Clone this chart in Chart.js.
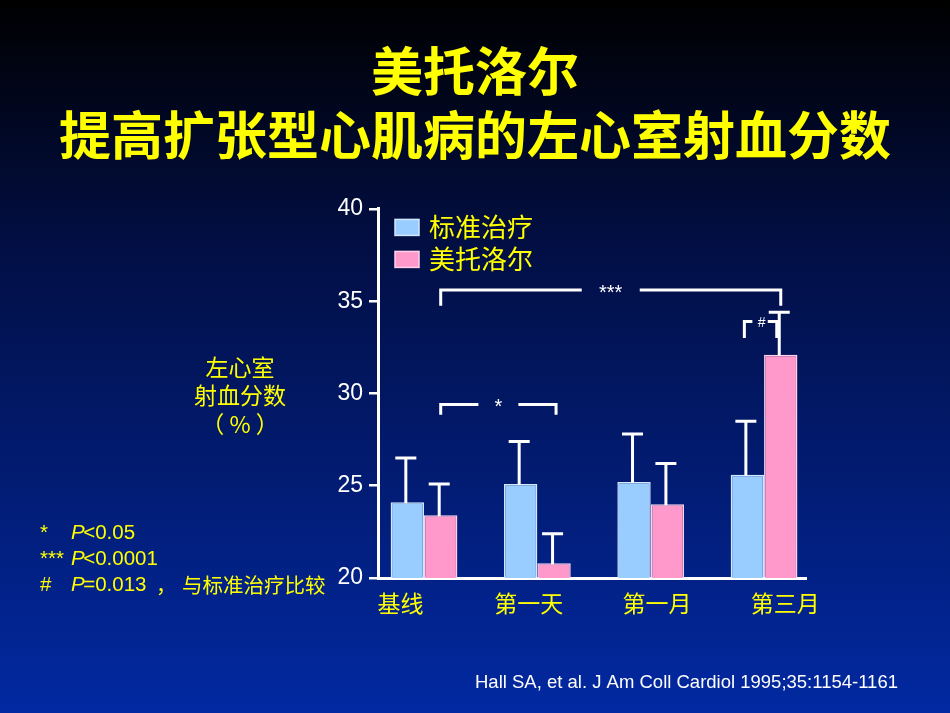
<!DOCTYPE html>
<html>
<head>
<meta charset="utf-8">
<script src="https://cdn.jsdelivr.net/npm/chart.js@4/dist/chart.umd.min.js"></script>
<style>
  html, body { margin: 0; padding: 0; background: #000; }
  #wrap { width: 950px; height: 713px; position: relative; }
</style>
</head>
<body>
<div id="wrap"><canvas id="c" width="950" height="713"></canvas></div>
<script>
// ---- data ----
const categories = ['基线', '第一天', '第一月', '第三月'];
const seriesNames = ['标准治疗', '美托洛尔'];
const standardEF = [24.1, 25.1, 25.2, 25.6];
const standardSD = [2.4, 2.3, 2.6, 2.9];
const metoprololEF = [23.4, 20.8, 24.0, 32.1];
const metoprololSD = [1.7, 1.6, 2.2, 2.3];
const yTicks = [20, 25, 30, 35, 40];
const titleLines = ['美托洛尔', '提高扩张型心肌病的左心室射血分数'];
const yAxisLabel = ['左心室', '射血分数', '（ % ）'];
const citation = 'Hall SA, et al. J Am Coll Cardiol 1995;35:1154-1161';

const YELLOW = '#FFFF00';
const CJK = '"Noto Sans CJK SC", "Noto Sans", sans-serif';
const ARIAL = '"Liberation Sans", Arial, sans-serif';

const bgPlugin = {
  id: 'bg',
  beforeDraw(chart) {
    const ctx = chart.ctx;
    const g = ctx.createLinearGradient(0, 0, 0, chart.height);
    g.addColorStop(0, '#000000');
    g.addColorStop(0.35, '#020f45');
    g.addColorStop(1, '#0229a2');
    ctx.save();
    ctx.fillStyle = g;
    ctx.fillRect(0, 0, chart.width, chart.height);
    ctx.restore();
  }
};

const extrasPlugin = {
  id: 'extras',
  afterDatasetsDraw(chart) {
    const ctx = chart.ctx;
    const y = chart.scales.y;
    const area = chart.chartArea;
    const m0 = chart.getDatasetMeta(0).data;
    const m1 = chart.getDatasetMeta(1).data;
    ctx.save();
    ctx.strokeStyle = '#FFFFFF';
    ctx.lineWidth = 3;
    ctx.lineCap = 'butt';
    // error bars
    const drawErr = (els, vals, sds) => {
      els.forEach((el, i) => {
        const top = y.getPixelForValue(vals[i] + sds[i]);
        const x = el.x - 1.5;
        ctx.beginPath();
        ctx.moveTo(x, el.y + 1);
        ctx.lineTo(x, top);
        ctx.moveTo(x - 10.5, top);
        ctx.lineTo(x + 10.5, top);
        ctx.stroke();
      });
    };
    drawErr(m0, standardEF, standardSD);
    drawErr(m1, metoprololEF, metoprololSD);

    // significance brackets
    const bracket = (xL, xR, vLine, vDrop, gap, label, fontSize) => {
      const yl = y.getPixelForValue(vLine);
      const yd = y.getPixelForValue(vDrop);
      const xc = (xL + xR) / 2;
      ctx.beginPath();
      ctx.moveTo(xL, yd); ctx.lineTo(xL, yl); ctx.lineTo(xc - gap, yl);
      ctx.moveTo(xc + gap, yl); ctx.lineTo(xR, yl); ctx.lineTo(xR, yd);
      ctx.stroke();
      ctx.fillStyle = '#FFFFFF';
      ctx.font = fontSize + 'px ' + ARIAL;
      ctx.textAlign = 'center';
      ctx.textBaseline = 'middle';
      ctx.fillText(label, xc, yl + fontSize * 0.15);
    };
    bracket(m1[0].x, m1[3].x, 35.6, 34.75, 29, '***', 20);
    bracket(m1[0].x, m1[1].x + 2, 29.4, 28.85, 20, '*', 20);

    // small # bracket
    const yt = y.getPixelForValue(33.9);
    const yb = y.getPixelForValue(33.0);
    const xl = m0[3].x - 3;
    const xr = m1[3].x - 4;
    ctx.beginPath();
    ctx.moveTo(xl, yb); ctx.lineTo(xl, yt); ctx.lineTo(xl + 8, yt);
    ctx.moveTo(xr - 9, yt); ctx.lineTo(xr, yt); ctx.lineTo(xr, yb);
    ctx.stroke();
    ctx.fillStyle = '#FFFFFF';
    ctx.font = '14px ' + ARIAL;
    ctx.textAlign = 'center';
    ctx.textBaseline = 'middle';
    ctx.fillText('#', (xl + xr) / 2 + 1, yt + 2);

    // legend
    chart.data.datasets.forEach((ds, i) => {
      const bx = area.left + 17;
      const by = area.top + 10.5 + i * 32;
      ctx.fillStyle = ds.backgroundColor;
      ctx.fillRect(bx, by, 24, 16);
      ctx.lineWidth = 1.5;
      ctx.strokeStyle = ds.borderColor;
      ctx.strokeRect(bx, by, 24, 16);
      ctx.fillStyle = YELLOW;
      ctx.font = '26px ' + CJK;
      ctx.textAlign = 'left';
      ctx.textBaseline = 'middle';
      ctx.fillText(ds.label, bx + 34, by + 8);
    });

    // y axis label
    ctx.fillStyle = YELLOW;
    ctx.font = '23px ' + CJK;
    ctx.textAlign = 'center';
    ctx.textBaseline = 'middle';
    yAxisLabel.forEach((t, i) => ctx.fillText(t, 240, 367 + i * 28.5));

    // footnotes
    ctx.textAlign = 'left';
    const notes = [['*', '<0.05'], ['***', '<0.0001'], ['#', '=0.013']];
    notes.forEach((n, i) => {
      const ny = 533 + i * 26;
      ctx.font = '20.5px ' + ARIAL;
      ctx.fillText(n[0], 40, ny);
      ctx.font = 'italic 20.5px ' + ARIAL;
      ctx.fillText('P', 71, ny);
      const pw = ctx.measureText('P').width;
      ctx.font = '20.5px ' + ARIAL;
      ctx.fillText(n[1], 71 + pw - 1.5, ny);
    });
    ctx.font = '20.5px ' + CJK;
    ctx.fillText('，', 156, 585);
    ctx.fillText('与标准治疗比较', 182, 585);

    // citation
    ctx.fillStyle = '#FFFFFF';
    ctx.font = '18.5px ' + ARIAL;
    ctx.textAlign = 'left';
    ctx.fillText(citation, 475, 683);
    ctx.restore();
  }
};

const intTicks = (s) => { s.ticks = categories.map((c, i) => ({ value: i })); };

const chart = new Chart(document.getElementById('c'), {
  type: 'bar',
  data: {
    datasets: [
      {
        label: seriesNames[0],
        data: standardEF.map((v, i) => ({ x: i, y: v })),
        backgroundColor: '#99CCFF',
        borderColor: '#D2E8FF',
        borderWidth: 1.5,
        xAxisID: 'x', yAxisID: 'y'
      },
      {
        label: seriesNames[1],
        data: metoprololEF.map((v, i) => ({ x: i, y: v })),
        backgroundColor: '#FF99CC',
        borderColor: '#FFD2EA',
        borderWidth: 1.5,
        xAxisID: 'x', yAxisID: 'y'
      }
    ]
  },
  options: {
    responsive: false,
    animation: false,
    devicePixelRatio: 1,
    categoryPercentage: 0.589,
    barPercentage: 1.0,
    layout: { padding: 0 },
    plugins: {
      legend: { display: false },
      tooltip: { enabled: false },
      title: {
        display: true,
        text: titleLines,
        color: YELLOW,
        font: { family: CJK, size: 52, weight: 'bold', lineHeight: 1.23 },
        padding: { top: 39, bottom: 42 }
      }
    },
    scales: {
      x: {
        type: 'linear',
        display: false,
        offset: false,
        min: -0.406,
        max: 3.37,
        grid: { offset: false },
        afterBuildTicks: intTicks
      },
      xl: {
        type: 'linear',
        position: 'bottom',
        offset: false,
        min: -0.175,
        max: 3.161,
        grid: { display: false, drawTicks: false, offset: false },
        border: { display: true, color: '#FFFFFF', width: 3 },
        afterBuildTicks: intTicks,
        ticks: {
          autoSkip: false,
          maxRotation: 0,
          padding: 11,
          color: YELLOW,
          font: { family: CJK, size: 23 },
          callback: (v) => Number.isInteger(v) ? categories[v] : ''
        },
        afterFit: (s) => { s.height = 135; }
      },
      y: {
        type: 'linear',
        position: 'left',
        min: yTicks[0],
        max: yTicks[yTicks.length - 1],
        afterBuildTicks: (s) => { s.ticks = yTicks.map(v => ({ value: v })); },
        grid: { display: true, drawOnChartArea: false, drawTicks: true, tickLength: 9, color: '#FFFFFF', lineWidth: 2.5 },
        border: { display: true, color: '#FFFFFF', width: 3 },
        ticks: {
          padding: 6,
          color: '#FFFFFF',
          font: { family: ARIAL, size: 23 }
        },
        afterFit: (s) => { s.width = 378; }
      },
      yr: {
        type: 'linear',
        position: 'right',
        display: true,
        grid: { display: false, drawTicks: false },
        border: { display: false },
        ticks: { display: false },
        afterFit: (s) => { s.width = 144; }
      }
    }
  },
  plugins: [bgPlugin, extrasPlugin]
});
</script>
</body>
</html>
